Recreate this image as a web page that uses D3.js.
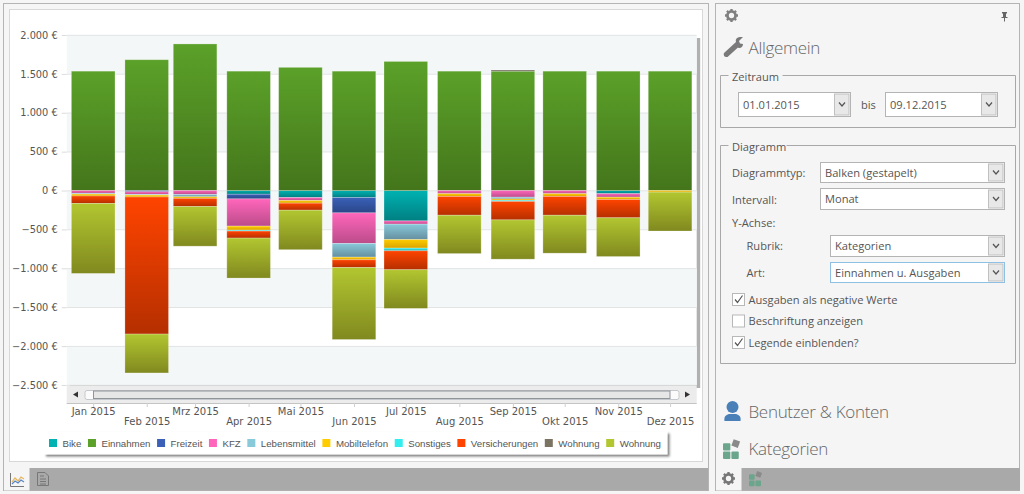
<!DOCTYPE html>
<html><head><meta charset="utf-8">
<script src="https://cdn.jsdelivr.net/npm/d3@7/dist/d3.min.js"></script>
<style>
html,body{margin:0;padding:0;background:#f5f5f5;overflow:hidden}
svg{display:block}
.ui{font-family:"Open Sans","Noto Sans",sans-serif;font-size:11.1px;fill:#555}
.head{font-family:"Open Sans","Noto Sans",sans-serif;font-weight:300;font-size:17px;letter-spacing:-.3px;fill:#666}
.ax text{font-family:"DejaVu Sans",sans-serif;font-size:9.8px;fill:#555}
.lg{font-family:"Liberation Sans",sans-serif;font-size:9.7px;fill:#555}
</style></head><body>
<script>
// ---- data ----
const months = ["Jan 2015","Feb 2015","Mrz 2015","Apr 2015","Mai 2015","Jun 2015","Jul 2015","Aug 2015","Sep 2015","Okt 2015","Nov 2015","Dez 2015"];
const yTicks = [2000,1500,1000,500,0,-500,-1000,-1500,-2000,-2500];
const seriesNames = ["Bike","Einnahmen","Freizeit","KFZ","Lebensmittel","Mobiltelefon","Sonstiges","Versicherungen","Wohnung","Wohnung"];
const bike          = [0,0,0,-47,-90,-90,-390,0,0,0,-40,0];
const einnahmen     = [1535,1682,1885,1535,1584,1535,1660,1535,1535,1535,1535,1535];
const freizeit      = [0,-15,0,-60,0,-197,0,0,0,0,0,0];
const kfz           = [-35,-35,-50,-350,-38,-393,-42,-40,-85,-40,-45,0];
const lebensmittel  = [-10,-8,-30,0,0,-176,-198,0,-22,0,0,0];
const mobiltelefon  = [-25,-25,-20,-52,-34,-34,-110,-35,-18,-35,-30,-20];
const sonstiges     = [0,0,0,-12,0,0,-35,0,-15,0,0,0];
const versicherung  = [-95,-1762,-105,-90,-90,-100,-243,-242,-237,-242,-235,0];
const wohnungA      = [0,0,0,0,0,0,0,0,15,0,0,0];
const wohnungB      = [-900,-500,-510,-514,-508,-925,-497,-493,-505,-488,-498,-500];
const seriesValues  = [bike,einnahmen,freizeit,kfz,lebensmittel,mobiltelefon,sonstiges,versicherung,wohnungA,wohnungB];
const topColors     = ["#00b2b2","#5ba129","#3a60b8","#ff66bb","#88c9da","#ffcc00","#33eeee","#ff4400","#7c7462","#b2c630"];
const bottomColors  = ["#007f82","#44751b","#2b4688","#bb4c8a","#658f9f","#d9a400","#28b0b0","#b52f00","#5d5648","#80891f"];

// ---- setup ----
const W=1024,H=494;
const svg=d3.select("body").append("svg").attr("width",W).attr("height",H);
const defs=svg.append("defs");
const rect=(g,x0,y0,x1,y1,fill,stroke)=>g.append("rect").attr("x",x0).attr("y",y0).attr("width",x1-x0).attr("height",y1-y0).attr("fill",fill).attr("stroke",stroke||"none");

// left frame
const L=svg.append("g");
rect(L,3.5,3.5,708.5,490.5,"#f5f5f5","#b4b4b4");
rect(L,9.5,9.5,702.5,461.5,"#fff","#d8d8d8");
rect(L,4,468,708,490.5,"#a9a9a9");
rect(L,4,468,29.5,490.5,"#f5f5f5");
// chart tab icon
L.append("path").attr("d","M10.5 473V486.5H24").attr("fill","none").attr("stroke","#777");
L.append("path").attr("d","M12 482L15 478L18 481L21 477L24 479").attr("fill","none").attr("stroke","#e8b45a").attr("stroke-width",1.2);
L.append("path").attr("d","M12 484L15 481L18 483L21 480L24 482").attr("fill","none").attr("stroke","#5b86c4").attr("stroke-width",1.2);
// doc tab icon
L.append("path").attr("d","M37.5 472.5H45L48.5 476V485.5H37.5Z M40 476H44 M40 479H46 M40 481.5H46 M40 484H46").attr("fill","none").attr("stroke","#777");

// plot geometry
const px0=66.7,px1=696.7,yTop=35,yBot=385;
const y=d3.scaleLinear().domain([2000,-2500]).range([yTop,yBot]);
const dates=months.map((m,i)=>new Date(Date.UTC(2015,i,1)));
const x=d3.scaleUtc().domain([new Date(Date.UTC(2014,11,16,16)),new Date(Date.UTC(2015,11,16,10))]).range([px0,px1]);
const barW=43.6;

// shadow + plot bg
rect(L,px0+3,yTop+3,px1+3.5,yBot+3,"#b0b0b0");
const bands=svg.append("g");
rect(bands,px0,yTop,px1,yBot,"#fff");
yTicks.slice(0,-1).forEach((t,i)=>{ if(i%2===0) rect(bands,px0,y(t),px1,y(yTicks[i+1]),"#f4f7f8"); });

// y axis
const gy=svg.append("g").attr("class","ax").attr("transform",`translate(${px0},0)`)
 .call(d3.axisLeft(y).tickValues(yTicks).tickSize(5).tickPadding(4).tickFormat(v=>d3.format(",")(v).replace(/,/g,".")+" €"));
gy.select(".domain").remove();
gy.selectAll("line").attr("stroke","#dcdcdc");
const grid=svg.append("g");
grid.selectAll("line").data(yTicks).join("line").attr("x1",px0).attr("x2",px1).attr("y1",d=>y(d)+.3).attr("y2",d=>y(d)+.3).attr("stroke","#e2e4e4");

// stack
const rows=months.map((m,i)=>{const r={date:dates[i]};seriesValues.forEach((s,k)=>r["s"+k]=s[i]);return r;});
const keys=seriesNames.map((n,k)=>"s"+k);
const stacked=d3.stack().keys(keys).offset(d3.stackOffsetDiverging)(rows);
seriesNames.forEach((n,k)=>{
  const g=defs.append("linearGradient").attr("id","g"+k).attr("x1",0).attr("x2",0).attr("y1",0).attr("y2",1);
  g.append("stop").attr("offset",0).attr("stop-color",topColors[k]);
  g.append("stop").attr("offset",1).attr("stop-color",bottomColors[k]);
});
svg.append("g").selectAll("g").data(stacked).join("g").attr("fill",(d,i)=>`url(#g${i})`)
 .selectAll("rect").data(d=>d.filter(p=>p[1]!==p[0])).join("rect")
 .attr("x",d=>x(d.data.date)-barW/2).attr("width",barW)
 .attr("y",d=>y(Math.max(d[0],d[1]))).attr("height",d=>Math.abs(y(d[0])-y(d[1])))
 .attr("stroke","#fff").attr("stroke-opacity",.3).attr("stroke-width",.8);

// scrollbar
const sb=svg.append("g");
rect(sb,px0,386,px1,403.5,"#ececec");
sb.append("line").attr("x1",px0).attr("x2",px1).attr("y1",403.5).attr("y2",403.5).attr("stroke","#c4c4c4");
rect(sb,85,390.5,679,399.5,"#fbfbfb","#c4c8cc").attr("rx",2);
rect(sb,93.5,391,670,398.5,"#e6e6e6","#8f9499");
sb.append("path").attr("d","M78 391.5L73 394.5L78 397.5Z").attr("fill","#333");
sb.append("path").attr("d","M685 391.5L690 394.5L685 397.5Z").attr("fill","#333");

// x axis
const gx=svg.append("g").attr("class","ax").attr("transform","translate(0,403)")
 .call(d3.axisBottom(x).tickValues(dates).tickSize(4).tickFormat((d,i)=>months[i]));
gx.select(".domain").remove();
gx.selectAll("line").attr("stroke","#cfcfcf");
gx.selectAll("text").attr("y",(d,i)=>i%2?15:5).attr("dy","0.71em").style("font-size","10px");

// legend
const lg=svg.append("g");
defs.append("filter").attr("id","ls").attr("x","-5%").attr("y","-30%").attr("width","110%").attr("height","170%")
 .call(f=>f.append("feDropShadow").attr("dx",2).attr("dy",2).attr("stdDeviation",1.1).attr("flood-color","#444").attr("flood-opacity",.7));
rect(lg,44,431.5,667.5,454.5,"#fff").attr("filter","url(#ls)");
let lx=49;
seriesNames.forEach((n,k)=>{
  rect(lg,lx,439,lx+8,447,topColors[k]);
  const t=lg.append("text").attr("class","lg").attr("x",lx+13.5).attr("y",446.5).text(n);
  lx+=13.5+t.node().getComputedTextLength()+6.6;
});

// right panel
const R=svg.append("g");
rect(R,715.5,3.5,1019.5,490.5,"#f5f5f5","#b4b4b4");
rect(R,716,468,1020,490.5,"#a9a9a9");
rect(R,716,468,741.5,490.5,"#f5f5f5");

function gear(g,cx,cy,r,col){
  g.append("circle").attr("cx",cx).attr("cy",cy).attr("r",r*.62).attr("fill","none").attr("stroke",col).attr("stroke-width",r*.42);
  d3.range(8).forEach(i=>{const a=i*Math.PI/4;
    g.append("line").attr("x1",cx+Math.cos(a)*r*.7).attr("y1",cy+Math.sin(a)*r*.7).attr("x2",cx+Math.cos(a)*r).attr("y2",cy+Math.sin(a)*r)
     .attr("stroke",col).attr("stroke-width",r*.36);});
}
gear(R,731.5,15.5,6.5,"#808080");
gear(R,728.5,478.5,6.5,"#777");
// pin
R.append("path").attr("d","M1002 12H1007V13L1006 14V17H1007.5V18H1005V21.5H1004V18H1001.5V17H1003V14L1002 13Z").attr("fill","#666");
// wrench
R.append("path").attr("d","M724 53L736 42C735 38 738 36.5 743 37L739 41L740 43.5L743 44C743 47.500 739.500 49 738 47.500L727.500 57C725 57.500 723 55.500 724 53Z").attr("fill","#7a7a7a");
R.append("text").attr("class","head").attr("x",748.5).attr("y",54).text("Allgemein");
R.append("text").attr("class","head").attr("x",748.5).attr("y",418).text("Benutzer & Konten");
R.append("text").attr("class","head").attr("x",748.5).attr("y",455).text("Kategorien");
// user
R.append("circle").attr("cx",732.5).attr("cy",407).attr("r",6).attr("fill","#4a80b8");
R.append("path").attr("d","M724.500 421C723.500 416 727 414 730 414H735C738 414 741.500 416 740.500 421Z").attr("fill","#4a80b8");
// category icons
function cats(g,x0,y0,s){
  const c="#6aa58c";
  [[0,4],[0,12],[8,12]].forEach(o=>rect(g,x0+o[0]*s,y0+o[1]*s,x0+(o[0]+7)*s,y0+(o[1]+7)*s,c).attr("rx",1));
  g.append("rect").attr("x",x0+9*s).attr("y",y0+1*s).attr("width",6.5*s).attr("height",6.5*s).attr("fill","#8a8a8a").attr("transform",`rotate(20 ${x0+12*s} ${y0+4*s})`);
}
cats(R,723,439,1.05);
cats(R,749,471,.8);

function fieldset(x0,y0,x1,y1,label,lw){
  R.append("path").attr("d",`M${x0+8} ${y0}H${x0} V${y1}H${x1}V${y0}H${x0+lw}`).attr("fill","none").attr("stroke","#a8a8a8");
  R.append("text").attr("class","ui").attr("x",x0+11.5).attr("y",y0+5).text(label);
}
fieldset(720.5,75.5,1015.5,127.5,"Zeitraum",62);
fieldset(720.5,145.5,1015.5,363.5,"Diagramm",66);

function combo(x0,y0,x1,y1,label,blue){
  const b=blue?"#8fc0e4":"#b4b4b4";
  rect(R,x0,y0,x1,y1,"#fff",b);
  rect(R,x1-16,y0+1.5,x1-1.5,y1-1.5,"#e8e8e8","#c0c0c0");
  R.append("path").attr("d",`M${x1-11.5} ${(y0+y1)/2-2}L${x1-8.5} ${(y0+y1)/2+1.500}L${x1-5.5} ${(y0+y1)/2-2}`).attr("fill","none").attr("stroke","#555").attr("stroke-width",1.2);
  R.append("text").attr("class","ui").attr("x",x0+4.5).attr("y",(y0+y1)/2+4).text(label);
}
combo(738.5,92.5,850.5,116.5,"01.01.2015");
combo(885.5,92.5,997.5,116.5,"09.12.2015");
R.append("text").attr("class","ui").attr("x",861).attr("y",108.500).text("bis");
combo(820.5,162.5,1004.5,182.5,"Balken (gestapelt)");
combo(820.5,188.5,1004.5,209.5,"Monat");
combo(830.5,235.5,1004.5,256.5,"Kategorien");
combo(830.5,262.5,1004.5,282.5,"Einnahmen u. Ausgaben",true);
[["Diagrammtyp:",732,177],["Intervall:",732,204],["Y-Achse:",732,227],["Rubrik:",746.5,250],["Art:",746.5,277]].forEach(a=>
  R.append("text").attr("class","ui").attr("x",a[1]).attr("y",a[2]).text(a[0]));
[["Ausgaben als negative Werte",293,true],["Beschriftung anzeigen",314.5,false],["Legende einblenden?",336,true]].forEach(a=>{
  rect(R,732.5,a[1]+.5,744.5,a[1]+12.5,"#fff","#b8b8b8");
  if(a[2]) R.append("path").attr("d",`M735 ${a[1]+6.5}L737.500 ${a[1]+9.5}L742.500 ${a[1]+2.5}`).attr("fill","none").attr("stroke","#555").attr("stroke-width",1.2);
  R.append("text").attr("class","ui").attr("x",748.5).attr("y",a[1]+10.5).text(a[0]);
});
</script>
</body></html>
